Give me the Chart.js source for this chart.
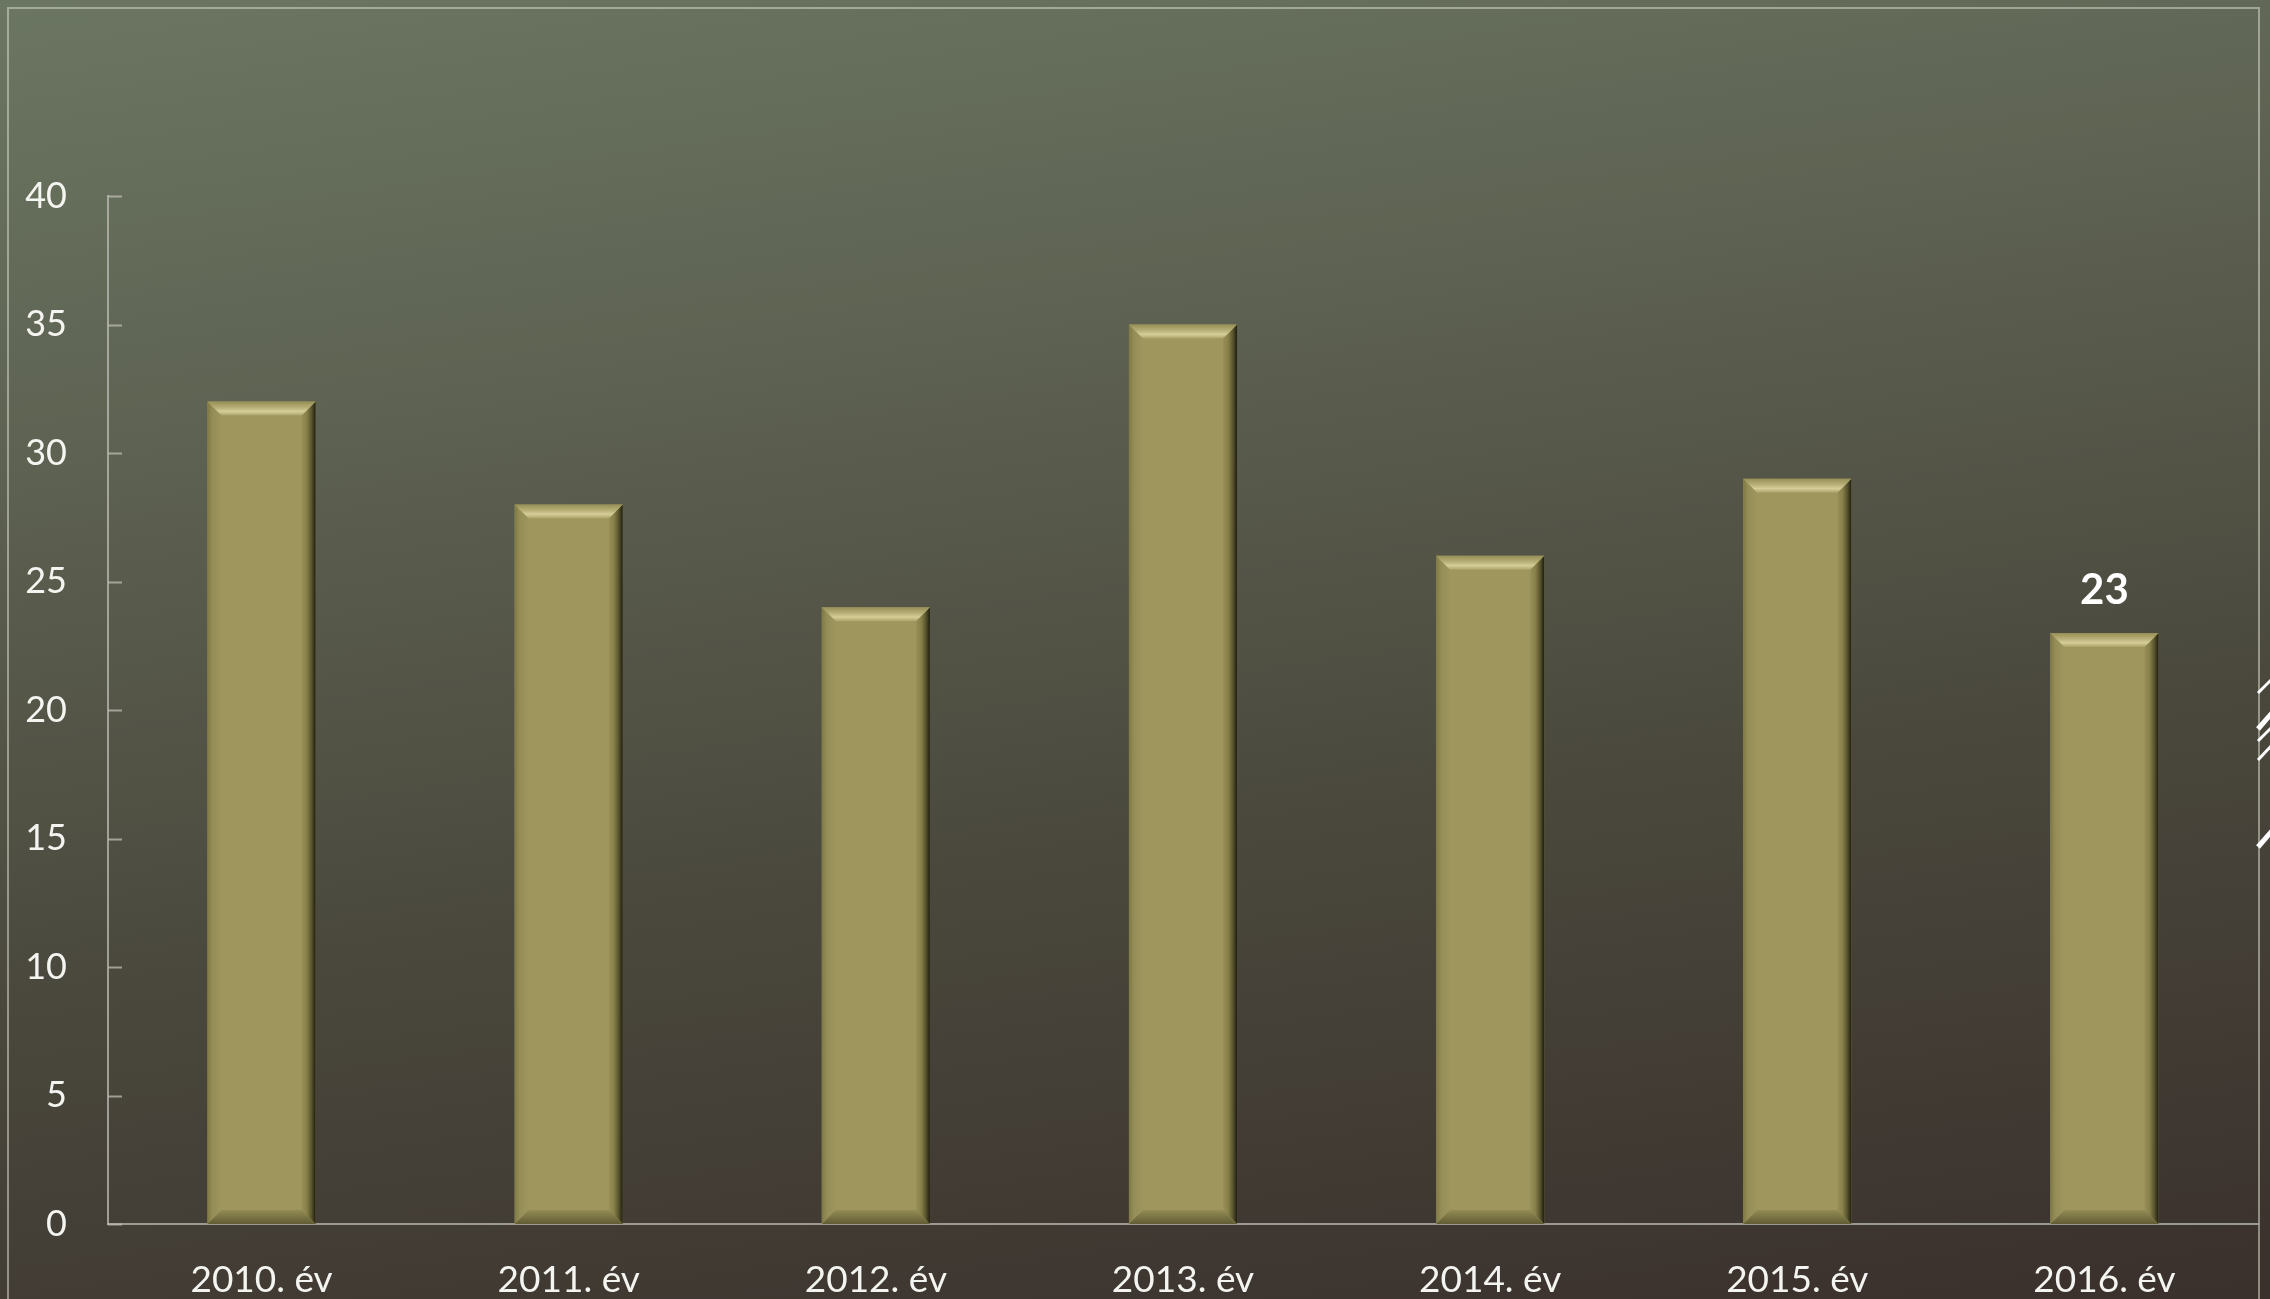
<!DOCTYPE html>
<html>
<head>
<meta charset="utf-8">
<script src="https://cdn.jsdelivr.net/npm/chart.js@4.4.1/dist/chart.umd.min.js"></script>
<style>
  html, body { margin: 0; padding: 0; overflow: hidden; }
  body {
    width: 2270px; height: 1299px; position: relative;
    background: linear-gradient(172deg, #6b7662 0%, #5d6151 30%, #4a483d 62%, #3a302c 100%);
  }
  #frame {
    position: absolute; left: 7px; top: 7px; width: 2249px; height: 1400px;
    border: 2px solid rgba(215, 215, 200, 0.55); pointer-events: none;
  }
  #wrap { position: absolute; left: 0; top: 0; width: 2270px; height: 1299px; }
  #deco { position: absolute; left: 2250px; top: 660px; }
</style>
</head>
<body>
<div id="frame"></div>
<svg id="deco" width="20" height="200" viewBox="2250 660 20 200">
  <g stroke="#ffffff" stroke-linecap="butt">
    <line x1="2258" y1="693" x2="2272" y2="679" stroke-width="3"/>
    <line x1="2258" y1="729" x2="2272" y2="713" stroke-width="5"/>
    <line x1="2258" y1="741" x2="2272" y2="727" stroke-width="3"/>
    <line x1="2258" y1="760" x2="2272" y2="745" stroke-width="3"/>
    <line x1="2258" y1="847" x2="2272" y2="831" stroke-width="5"/>
  </g>
</svg>
<div id="wrap"><canvas id="barChart"></canvas></div>
<script>
// Data
const years = ['2010. év', '2011. év', '2012. év', '2013. év', '2014. év', '2015. év', '2016. év'];
const counts = [32, 28, 24, 35, 26, 29, 23];
const showValue = [false, false, false, false, false, false, true];
const yTicks = [0, 5, 10, 15, 20, 25, 30, 35, 40];

const FONT = 'Lato, "Open Sans", "Noto Sans", sans-serif';
const BAR_FACE = '#9f965e';

// Bevelled look on top of the plain bars
const bevelBars = {
    id: 'bevelBars',
    afterDatasetsDraw(chart) {
        const ctx = chart.ctx;
        chart.getDatasetMeta(0).data.forEach(bar => {
            const { x, y, base, width } = bar.getProps(['x', 'y', 'base', 'width'], true);
            const l = x - width / 2, r = x + width / 2, t = y, b = base;
            const bev = 14;
            ctx.save();

            // left edge
            let g = ctx.createLinearGradient(l, 0, l + bev, 0);
            g.addColorStop(0, '#7f7945');
            g.addColorStop(0.35, '#958d57');
            g.addColorStop(1, BAR_FACE);
            ctx.fillStyle = g;
            ctx.beginPath();
            ctx.moveTo(l, t); ctx.lineTo(l + bev, t + bev);
            ctx.lineTo(l + bev, b - bev); ctx.lineTo(l, b);
            ctx.closePath(); ctx.fill();

            // right edge
            g = ctx.createLinearGradient(r - bev - 2, 0, r, 0);
            g.addColorStop(0, BAR_FACE);
            g.addColorStop(0.45, '#878049');
            g.addColorStop(0.75, '#57532d');
            g.addColorStop(1, '#1e1d10');
            ctx.fillStyle = g;
            ctx.beginPath();
            ctx.moveTo(r, t); ctx.lineTo(r, b);
            ctx.lineTo(r - bev, b - bev); ctx.lineTo(r - bev, t + bev);
            ctx.closePath(); ctx.fill();

            // top bevel
            g = ctx.createLinearGradient(0, t, 0, t + bev);
            g.addColorStop(0, '#958e55');
            g.addColorStop(0.45, '#bab27a');
            g.addColorStop(0.7, '#d6ce98');
            g.addColorStop(1, '#aaa268');
            ctx.fillStyle = g;
            ctx.beginPath();
            ctx.moveTo(l, t); ctx.lineTo(r, t);
            ctx.lineTo(r - bev, t + bev); ctx.lineTo(l + bev, t + bev);
            ctx.closePath(); ctx.fill();

            // bottom bevel
            g = ctx.createLinearGradient(0, b - bev, 0, b);
            g.addColorStop(0, '#948c56');
            g.addColorStop(1, '#615c34');
            ctx.fillStyle = g;
            ctx.beginPath();
            ctx.moveTo(l, b); ctx.lineTo(r, b);
            ctx.lineTo(r - bev, b - bev); ctx.lineTo(l + bev, b - bev);
            ctx.closePath(); ctx.fill();

            ctx.restore();
        });
    }
};

// Inward ticks on the value axis and the single value label
const extras = {
    id: 'extras',
    afterDraw(chart) {
        const ctx = chart.ctx;
        const yScale = chart.scales.y;
        const area = chart.chartArea;
        ctx.save();
        ctx.strokeStyle = 'rgba(190, 190, 180, 0.75)';
        ctx.lineWidth = 2;
        yScale.ticks.forEach(tick => {
            const py = Math.round(yScale.getPixelForValue(tick.value)) + 0.5;
            ctx.beginPath();
            ctx.moveTo(area.left, py);
            ctx.lineTo(area.left + 14, py);
            ctx.stroke();
        });

        ctx.fillStyle = '#ffffff';
        ctx.font = 'bold 42px ' + FONT;
        ctx.textAlign = 'center';
        ctx.textBaseline = 'bottom';
        chart.getDatasetMeta(0).data.forEach((bar, i) => {
            if (!showValue[i]) return;
            ctx.fillText(String(counts[i]), bar.x, bar.y - 21);
        });
        ctx.restore();
    }
};

const ctx = document.getElementById('barChart').getContext('2d');
new Chart(ctx, {
    type: 'bar',
    data: {
        labels: years,
        datasets: [{
            data: counts,
            backgroundColor: BAR_FACE,
            borderWidth: 0,
            categoryPercentage: 1,
            barPercentage: 0.352
        }]
    },
    options: {
        responsive: true,
        maintainAspectRatio: false,
        animation: false,
        layout: { padding: { top: 196, right: 12, left: 0, bottom: 0 } },
        plugins: {
            legend: { display: false },
            tooltip: { enabled: false }
        },
        scales: {
            x: {
                grid: { display: false, drawTicks: false },
                border: { display: true, color: 'rgba(170, 170, 165, 0.85)', width: 2 },
                ticks: {
                    color: '#f4f4f0',
                    font: { family: FONT, size: 37 },
                    padding: 34
                },
                afterFit(scale) { scale.height = 75; }
            },
            y: {
                min: 0,
                max: 40,
                afterBuildTicks(scale) { scale.ticks = yTicks.map(v => ({ value: v })); },
                grid: { display: false, drawTicks: false },
                border: { display: true, color: 'rgba(190, 190, 180, 0.75)', width: 2 },
                ticks: {
                    color: '#f4f4f0',
                    font: { family: FONT, size: 36 },
                    padding: 41
                },
                afterFit(scale) { scale.width = 108; }
            }
        }
    },
    plugins: [bevelBars, extras]
});
</script>
</body>
</html>
